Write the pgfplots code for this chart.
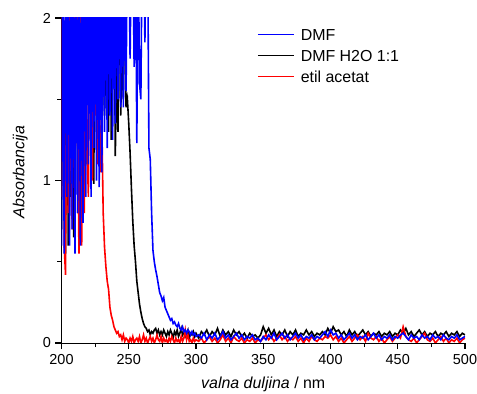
\documentclass[border=0pt]{standalone}
\usepackage{fontspec}
\setmainfont{Liberation Sans}
\usepackage{pgfplots}
\usepackage{pgfplotstable}
\pgfplotsset{compat=1.18}
\pgfplotstableread{
x dmf h2o ea
200 0.60 0.70 0.90
201 2.50 2.50 2.50
202 0.55 1.10 0.60
203 2.50 0.55 0.42
204 0.90 2.50 2.50
205 2.50 0.60 0.80
206 0.60 2.50 2.50
207 2.50 0.90 1.10
208 0.70 2.50 0.70
209 2.50 0.65 2.50
210 0.55 1.20 0.90
211 2.50 2.50 2.50
212 0.80 0.80 1.30
213 2.50 2.50 0.55
214 0.60 1.00 2.50
215 2.50 2.50 0.60
216 0.74 1.30 1.70
217 2.50 2.50 0.80
218 0.90 1.10 2.50
219 2.50 2.50 1.20
220 1.10 1.50 0.90
221 2.50 2.50 2.50
222 0.90 1.20 1.30
223 2.50 2.50 1.00
224 1.20 0.98 2.50
225 2.50 2.50 1.40
226 1.00 1.30 1.80
227 2.50 2.50 1.10
228 0.96 1.50 1.73
229 2.50 2.50 1.05
230 1.05 1.10 1.35
231 2.50 2.50 0.80
232 1.30 1.40 0.59
233 2.50 1.80 0.47
234 1.20 2.50 0.38
235 2.50 1.30 0.33
236 1.40 2.50 0.22
237 2.50 1.25 0.17
238 1.25 1.60 0.14
239 2.50 2.50 0.10
240 1.35 1.15 0.08
241 2.50 1.70 0.06
242 1.50 1.30 0.07
243 2.50 2.50 0.04
244 1.45 1.40 0.05
245 2.50 1.80 0.02
246 1.45 1.50 0.05
247 2.50 2.50 0.01
248 1.55 1.45 0.03
249 2.50 1.50 0.02
250 2.50 1.35 0.00
251 1.75 1.17 0.03
252 2.50 0.95 0.01
253 2.50 0.75 0.04
254 1.70 0.60 0.00
255 2.50 0.50 0.02
256 1.23 0.38 0.03
257 2.50 0.31 0.01
258 1.60 0.24 0.04
259 1.50 0.19 0.00
260 2.50 0.15 0.02
261 2.50 0.12 0.05
262 1.85 0.10 0.01
263 2.50 0.09 0.03
264 2.50 0.07 0.00
265 1.20 0.08 0.02
266 1.13 0.05 0.04
267 0.80 0.07 0.01
268 0.57 0.06 0.03
269 0.50 0.08 0.00
270 0.45 0.09 0.02
271 0.41 0.06 0.05
272 0.36 0.08 0.02
273 0.31 0.05 0.01
274 0.29 0.07 0.04
275 0.26 0.05 0.00
276 0.28 0.08 0.03
277 0.22 0.06 0.01
278 0.20 0.04 0.02
279 0.18 0.07 0.00
280 0.16 0.05 0.03
281 0.14 0.08 0.01
282 0.15 0.06 0.04
283 0.12 0.03 0.02
284 0.13 0.07 0.00
285 0.11 0.05 0.03
286 0.10 0.08 0.01
287 0.12 0.04 0.02
288 0.09 0.06 0.00
289 0.08 0.09 0.04
290 0.10 0.05 0.01
291 0.07 0.07 0.03
292 0.08 0.04 0.08
293 0.06 0.06 0.02
294 0.08 0.08 0.05
295 0.07 0.03 0.01
296 0.05 0.06 0.02
297 0.07 0.05 0.00
298 0.05 0.07 0.03
299 0.06 0.04 0.01
300 0.04 0.06 0.02
302 0.05 0.03 0.01
304 0.03 0.07 0.03
306 0.06 0.05 0.00
308 0.02 0.08 0.02
310 0.05 0.04 0.04
312 0.03 0.07 0.01
314 0.06 0.05 0.03
316 0.02 0.09 0.00
318 0.04 0.04 0.02
320 0.07 0.08 0.05
322 0.03 0.05 0.01
324 0.05 0.07 0.03
326 0.02 0.04 0.00
328 0.04 0.08 0.04
330 0.06 0.05 0.02
332 0.03 0.07 0.01
334 0.05 0.04 0.03
336 0.02 0.06 0.00
338 0.04 0.03 0.02
340 0.03 0.06 0.01
342 0.05 0.04 0.03
344 0.02 0.05 0.00
346 0.03 0.03 0.02
348 0.01 0.05 0.01
350 0.04 0.10 0.03
352 0.02 0.06 0.05
354 0.05 0.09 0.02
356 0.03 0.05 0.04
358 0.06 0.08 0.01
360 0.02 0.04 0.03
362 0.04 0.07 0.05
364 0.06 0.05 0.02
366 0.03 0.08 0.04
368 0.05 0.04 0.01
370 0.02 0.07 0.03
372 0.04 0.05 0.02
374 0.06 0.08 0.04
376 0.03 0.04 0.01
378 0.05 0.06 0.03
380 0.02 0.05 0.00
382 0.04 0.08 0.03
384 0.03 0.05 0.01
386 0.05 0.07 0.04
388 0.02 0.04 0.02
390 0.04 0.06 0.01
392 0.03 0.05 0.03
394 0.05 0.07 0.02
396 0.07 0.05 0.04
398 0.04 0.09 0.03
400 0.08 0.06 0.05
402 0.05 0.10 0.02
404 0.06 0.07 0.04
406 0.03 0.08 0.01
408 0.05 0.05 0.03
410 0.02 0.07 0.00
412 0.04 0.04 0.02
414 0.06 0.08 0.04
416 0.03 0.05 0.01
418 0.05 0.07 0.03
420 0.02 0.04 0.05
422 0.04 0.06 0.02
424 0.03 0.08 0.04
426 0.05 0.05 0.01
428 0.02 0.07 0.06
430 0.04 0.04 0.03
432 0.06 0.06 0.02
434 0.03 0.05 0.04
436 0.05 0.07 0.01
438 0.02 0.04 0.03
440 0.04 0.06 0.00
442 0.03 0.05 0.02
444 0.05 0.07 0.04
446 0.02 0.04 0.01
448 0.04 0.06 0.03
450 0.03 0.05 0.05
452 0.05 0.08 0.03
454 0.06 0.06 0.10
456 0.04 0.09 0.04
458 0.02 0.05 0.02
460 0.05 0.07 0.01
462 0.03 0.04 0.03
464 0.04 0.06 0.00
466 0.02 0.08 0.02
468 0.05 0.05 0.04
470 0.03 0.07 0.06
472 0.04 0.04 0.02
474 0.02 0.06 0.01
476 0.05 0.05 0.03
478 0.03 0.07 0.00
480 0.04 0.04 0.02
482 0.02 0.06 0.04
484 0.05 0.05 0.01
486 0.03 0.07 0.03
488 0.02 0.04 0.00
490 0.04 0.06 0.02
492 0.03 0.05 0.01
494 0.05 0.07 0.03
496 0.02 0.04 0.00
498 0.03 0.06 0.02
500 0.04 0.05 0.03
}\spectra
\begin{document}
\begin{tikzpicture}
\useasboundingbox (0,0) rectangle (477bp,394bp);
\begin{axis}[
  at={(61.5bp,51bp)}, anchor=south west,
  scale only axis, width=403.5bp, height=325bp,
  xmin=200, xmax=500, ymin=0, ymax=2,
  axis x line*=bottom, axis y line*=left,
  tick align=outside,
  xtick={200,250,...,500}, ytick={0,1,2},
  minor x tick num=1, minor y tick num=1,
  major tick length=6bp, minor tick length=4bp,
  tick style={line width=1.2bp, black},
  axis line style={line width=1bp},
  /pgf/number format/assume math mode=true,
  ticklabel style={font=\fontsize{14.5}{17}\selectfont},
  xticklabel style={yshift=-2bp},
  yticklabel style={xshift=-1bp},
  xlabel={\textit{valna duljina} / nm},
  ylabel={\textit{Absorbancija}},
  label style={font=\fontsize{16}{19}\selectfont},
  xlabel style={at={(axis description cs:0.5,0)}, anchor=base, yshift=-45bp},
  ylabel style={at={(axis description cs:-0.0917,0.526)}, anchor=base},
  legend cell align=left,
  legend image code/.code={\draw[#1] (0bp,2.5bp) -- (36bp,2.5bp);},
  legend style={draw=none, fill=none, at={(0.4845,0.967)}, anchor=north west,
    inner sep=0pt, row sep=5bp, column sep=6bp,
    font=\fontsize{16}{19}\selectfont,
    nodes={inner sep=0pt, text height=12bp, text depth=4bp}},
]
\addplot[black, line width=1.6bp, forget plot] table[x=x, y=h2o] {\spectra};
\addplot[red, line width=1.6bp, forget plot] table[x=x, y=ea] {\spectra};
\addplot[blue, line width=1.6bp, forget plot] table[x=x, y=dmf] {\spectra};
\addlegendimage{blue, line width=1.6bp}
\addlegendentry{DMF}
\addlegendimage{black, line width=1.6bp}
\addlegendentry{DMF H2O 1:1}
\addlegendimage{red, line width=1.6bp}
\addlegendentry{etil acetat}
\end{axis}
\end{tikzpicture}
\end{document}
